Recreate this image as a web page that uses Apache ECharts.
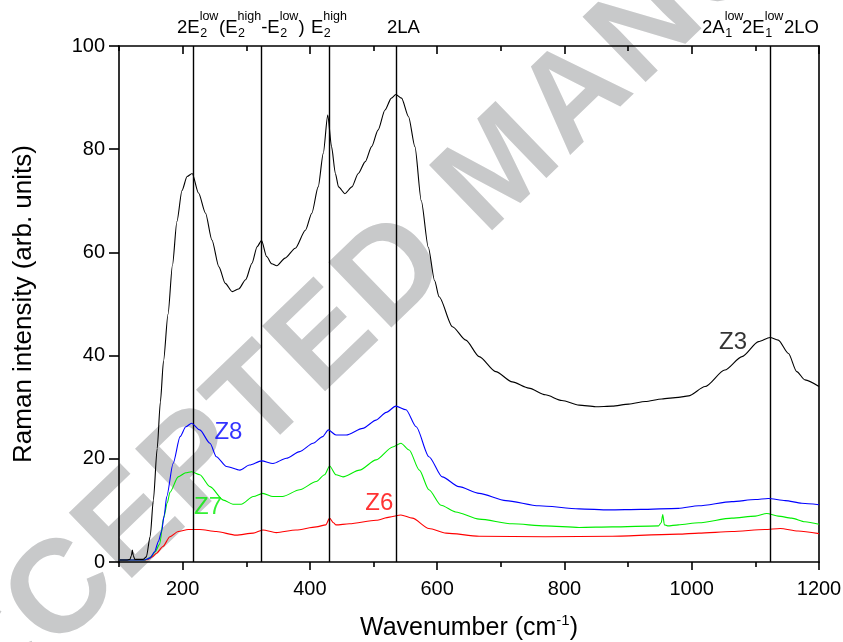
<!DOCTYPE html>
<html>
<head>
<meta charset="utf-8">
<script src="https://cdn.jsdelivr.net/npm/echarts@6/dist/echarts.min.js"></script>
<style>html,body{margin:0;padding:0;background:#fff}#c{width:843px;height:642px}</style>
</head>
<body>
<div id="c"></div>
<script>
// ---- data (wavenumber cm^-1, intensity arb. units) ----
const z3 = [[100,0.4],[112,0.4],[117,0.5],[119.5,1.2],[121,2.3],[122.5,1.2],[125,0.5],[138,0.5],[143,1],[149,5],[154,12],[160,22],[165,31],[170,39],[177,48],[184,57.5],[191,66],[199,72],[207,74.7],[215,75.3],[225,71.5],[236,67.6],[246,62.4],[257,57.2],[267,54],[278,52.4],[288,52.9],[299,54.7],[309,57.9],[317,61.1],[324,62.3],[332,59.2],[340,57.8],[348,57.4],[361,58.9],[377,60.8],[393,64.3],[403,67.6],[413,72.7],[421,79.2],[428,86.6],[434,80.5],[440,75.3],[445,72.7],[455,71.4],[466,72.7],[476,75.3],[487,77.6],[497,80.5],[507,83.7],[518,87.6],[528,89.9],[535,90.6],[544,89.9],[555,86.3],[565,80.5],[575,70],[586,61],[596,54.5],[603,51.4],[624,45.6],[645,43],[666,39.8],[692,36.9],[718,34.9],[744,33.7],[770,32.4],[796,31.3],[823,30.4],[849,30.1],[875,30.2],[901,30.6],[927,31.1],[953,31.6],[979,31.9],[995,32.2],[1021,34],[1052,37.2],[1079,39.8],[1105,42.7],[1123,43.5],[1136,43],[1152,40.4],[1165,36.9],[1178,35.3],[1200,34]];
const z8 = [[100,0.4],[140,0.4],[149,0.8],[156,2],[162,4],[167,6],[171,9],[175,12.7],[185,19.1],[196,24.3],[205,26.2],[214,26.9],[227,25.6],[243,23],[253,20.4],[269,18.5],[290,17.8],[305,18.8],[324,19.6],[342,19.1],[363,20.1],[384,21.4],[405,23],[420,24.3],[429,25.6],[441,24.6],[457,24.6],[483,25.9],[504,27.5],[520,29],[535,30.2],[551,29.5],[567,26.2],[587,20.4],[608,16.5],[634,14.6],[666,13.3],[708,11.9],[760,10.9],[823,10.3],[870,10.1],[920,10.2],[979,10.4],[1011,10.9],[1063,11.7],[1100,12.1],[1120,12.3],[1147,11.9],[1173,11.4],[1200,11.1]];
const z7 = [[100,0.4],[140,0.4],[145,0.6],[150,1],[157,2],[164,3.5],[170,8.5],[176,11.5],[180,13.5],[193,16.5],[205,17.3],[214,17.5],[227,16.9],[243,14.6],[264,12],[279,11.2],[292,11.2],[311,12.7],[326,13.3],[342,12.7],[357,12.7],[384,14],[410,15.6],[423,16.9],[431,18.6],[441,16.9],[452,16.5],[478,17.8],[504,19.8],[530,22.3],[543,23],[556,21.7],[572,17.8],[587,14],[606,11],[629,9.7],[666,8.3],[718,7.4],[770,7],[823,6.7],[875,6.8],[948,7],[952,7.6],[954.5,9.2],[957,7.2],[962,7],[979,7.2],[1011,7.6],[1063,8.5],[1100,8.9],[1118,9.4],[1136,8.9],[1157,8.5],[1178,7.8],[1200,7.3]];
const z6 = [[100,0.4],[140,0.4],[146,0.5],[152,1],[159,1.7],[169,3],[180,4.9],[193,5.9],[209,6.3],[227,6.3],[253,5.9],[284,5.2],[311,5.6],[326,6.2],[347,5.7],[378,6.2],[410,6.8],[425,7.2],[431,8.5],[437,7.6],[441,7.2],[462,7.4],[504,8.1],[525,8.7],[543,9.1],[561,8.5],[587,6.5],[614,5.6],[666,5],[770,4.9],[875,5],[979,5.4],[1011,5.6],[1063,5.9],[1115,6.3],[1139,6.5],[1167,6],[1200,5.5]];
const modeLines = [216, 324, 431, 536, 1123];
const xMajorTicks = [200, 400, 600, 800, 1000, 1200];
const xMinorTicks = [100, 300, 500, 700, 900, 1100];
const seriesNames = ['Z3', 'Z8', 'Z7', 'Z6'];
const seriesColors = ['#000000', '#0000ff', '#00ee00', '#ff0000'];
const labelPos = [[1065, 42.6], [272, 25.2], [240, 10.5], [509, 11.4]];

const FONT = 'Arial, "Liberation Sans", sans-serif';
const chart = echarts.init(document.getElementById('c'), null, {renderer: 'canvas'});

const mctx = document.createElement('canvas').getContext('2d');
function tw(t, size, weight) { mctx.font = (weight ? weight + ' ' : '') + size + 'px ' + FONT; return mctx.measureText(t).width; }

// top annotation labels with stacked super/subscripts
function labelGroup(x0, parts) {
  const els = []; let x = x0;
  const M = 18.5, S = 12.5, yM = 28, ySup = 17, ySub = 34;
  parts.forEach(p => {
    if (typeof p === 'string') {
      els.push({type: 'text', x: x, y: yM, silent: true,
        style: {text: p, fontSize: M, fontFamily: FONT, fill: '#000', textVerticalAlign: 'middle', verticalAlign: 'middle'}});
      x += tw(p, M);
    } else {
      els.push({type: 'text', x: x, y: ySup, silent: true,
        style: {text: p.sup, fontSize: S, fontFamily: FONT, fill: '#000', textVerticalAlign: 'middle', verticalAlign: 'middle'}});
      els.push({type: 'text', x: x + 0.5, y: ySub, silent: true,
        style: {text: p.sub, fontSize: S, fontFamily: FONT, fill: '#000', textVerticalAlign: 'middle', verticalAlign: 'middle'}});
      x += Math.max(tw(p.sup, S), tw(p.sub, S));
    }
  });
  return els;
}
let topLabels = [];
topLabels = topLabels.concat(labelGroup(177, ['2E', {sup: 'low', sub: '2'}]));
topLabels = topLabels.concat(labelGroup(219, ['(E', {sup: 'high', sub: '2'}, '-E', {sup: 'low', sub: '2'}, ')']));
topLabels = topLabels.concat(labelGroup(311, ['E', {sup: 'high', sub: '2'}]));
topLabels = topLabels.concat(labelGroup(387, ['2LA']));
topLabels = topLabels.concat(labelGroup(702, ['2A', {sup: 'low', sub: '1'}]));
topLabels = topLabels.concat(labelGroup(742, ['2E', {sup: 'low', sub: '1'}]));
topLabels = topLabels.concat(labelGroup(784, ['2LO']));

// watermark, letters laid out along a rotated baseline
function watermarkGroup() {
  const txt = 'ACCEPTED MANUSCRIPT', F = 132, sp = 4, anchorIdx = 9;
  const centers = []; let cum = 0;
  for (const ch of txt) { const w = tw(ch, F, 'bold'); centers.push(cum + w / 2); cum += w + sp; }
  const base = centers[anchorIdx];
  const children = [];
  [...txt].forEach((ch, i) => {
    if (ch === ' ') return;
    children.push({type: 'text', x: centers[i] - base, y: 0, z: -10, silent: true,
      style: {text: ch, font: 'bold ' + F + 'px ' + FONT, fill: '#c8c9ca',
        textAlign: 'center', align: 'center', textVerticalAlign: 'middle', verticalAlign: 'middle'}});
  });
  return {type: 'group', x: 500, y: 172, rotation: 44 * Math.PI / 180, z: -10, silent: true, children: children};
}

const axisLineStyle = {color: '#000', width: 1.6};
function xAxisDef(pos, ticks, len, inside, main) {
  return {
    type: 'value', position: pos, min: 100, max: 1200,
    axisLine: {show: main, lineStyle: axisLineStyle},
    axisTick: {show: true, inside: inside, length: len, customValues: ticks, lineStyle: {color: '#000', width: 1.6}},
    axisLabel: main && pos === 'bottom' ? {show: true, customValues: xMajorTicks, formatter: v => String(v), fontSize: 20, fontFamily: FONT, color: '#000', margin: 17} : {show: false},
    splitLine: {show: false},
    name: main && pos === 'bottom' ? '{a|Wavenumber (cm}{s|-1}{a|)}' : '',
    nameLocation: 'middle', nameGap: 51,
    nameTextStyle: {rich: {a: {fontSize: 25, fontFamily: FONT, color: '#000'}, s: {fontSize: 15, fontFamily: FONT, color: '#000', verticalAlign: 'top', padding: [0, 0, 15, 0]}}}
  };
}

const series = [];
[z3, z8, z7, z6].forEach((d, i) => {
  series.push({
    type: 'line', name: seriesNames[i], data: d, showSymbol: false, symbol: 'none',
    smooth: 0.25, smoothMonotone: 'x', silent: true, z: 3 + (3 - i),
    lineStyle: {color: seriesColors[i], width: 1.1},
    markLine: i === 0 ? {silent: true, symbol: 'none', label: {show: false},
      lineStyle: {color: '#000', width: 1.4, type: 'solid'},
      data: modeLines.map(v => ({xAxis: v}))} : undefined
  });
  series.push({
    type: 'scatter', data: [labelPos[i]], symbolSize: 0, silent: true, z: 10,
    label: {show: true, position: 'inside', formatter: seriesNames[i], fontSize: 24, fontFamily: FONT, color: seriesColors[i]}
  });
});

chart.setOption({
  animation: false,
  backgroundColor: '#fff',
  grid: {left: 119, right: 24, top: 46, bottom: 80, containLabel: false, outerBoundsMode: 'none'},
  xAxis: [
    xAxisDef('bottom', xMajorTicks, 8, false, true),
    xAxisDef('bottom', xMinorTicks, 5, false, false),
    xAxisDef('top', xMajorTicks, 8, true, true),
    xAxisDef('top', xMinorTicks, 5, true, false)
  ],
  yAxis: [
    {type: 'value', position: 'left', min: 0, max: 100, interval: 20,
      axisLine: {show: true, lineStyle: axisLineStyle},
      axisTick: {show: true, inside: false, length: 10, lineStyle: {color: '#000', width: 1.6}},
      axisLabel: {fontSize: 20, fontFamily: FONT, color: '#000', margin: 14},
      splitLine: {show: false},
      name: 'Raman intensity (arb. units)', nameLocation: 'middle', nameGap: 82,
      nameTextStyle: {fontSize: 26, fontFamily: FONT, color: '#000'}},
    {type: 'value', position: 'right', min: 0, max: 100, interval: 20,
      axisLine: {show: true, lineStyle: axisLineStyle},
      axisTick: {show: false}, axisLabel: {show: false}, splitLine: {show: false}}
  ],
  graphic: [watermarkGroup()].concat(topLabels),
  series: series
});
</script>
</body>
</html>
